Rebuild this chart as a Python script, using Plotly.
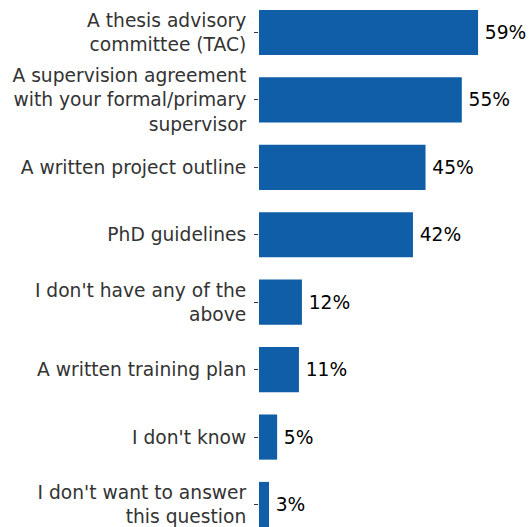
import plotly.graph_objects as go

categories = [
    "A thesis advisory<br>committee (TAC)",
    "A supervision agreement<br>with your formal/primary<br>supervisor",
    "A written project outline",
    "PhD guidelines",
    "I don't have any of the<br>above",
    "A written training plan",
    "I don't know",
    "I don't want to answer<br>this question",
]
values = [59.2, 54.8, 45.0, 41.6, 11.6, 10.8, 4.9, 2.7]
labels = [f"\u2009{round(v)}%" for v in values]

FS = 18.67

fig = go.Figure(go.Bar(
    x=values,
    y=categories,
    orientation="h",
    marker=dict(color="#115ea8", line=dict(width=0)),
    width=0.67,
    text=labels,
    textposition="outside",
    textfont=dict(family="DejaVu Sans", size=FS, color="#000000"),
    cliponaxis=False,
))

fig.update_layout(
    width=531,
    height=527,
    margin=dict(l=259, r=0, t=0, b=0, autoexpand=False),
    paper_bgcolor="white",
    plot_bgcolor="white",
    showlegend=False,
    font=dict(family="DejaVu Sans", size=FS, color="#333333"),
    xaxis=dict(range=[0, 73.5], visible=False, fixedrange=True),
    yaxis=dict(
        range=[7.334, -0.482],
        automargin=False,
        categoryorder="array",
        categoryarray=categories,
        ticks="outside",
        ticklen=4,
        tickcolor="#333333",
        tickwidth=1,
        showline=False,
        showgrid=False,
        tickfont=dict(family="DejaVu Sans", size=FS, color="#333333"),
        ticklabelstandoff=4,
        fixedrange=True,
    ),
)

fig.write_html(
    "out.html",
    config={"displayModeBar": False},
    post_script="document.body.style.margin='0';document.body.style.overflow='hidden';",
)
